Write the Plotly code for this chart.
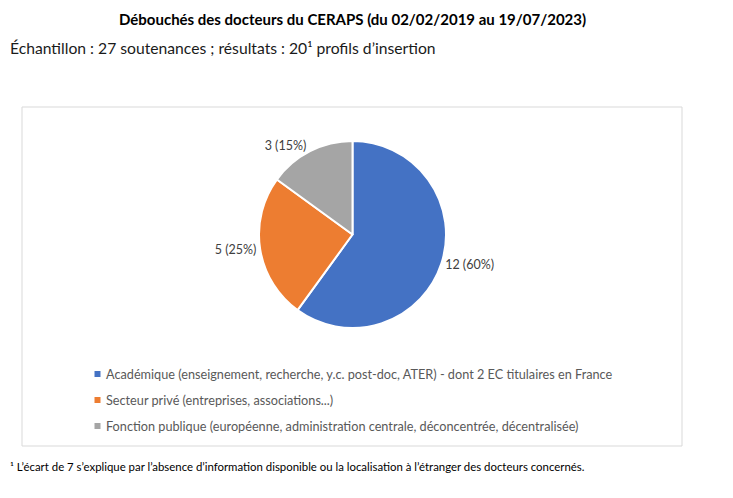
import plotly.graph_objects as go

# --- Data ---
categories = [
    "Académique (enseignement, recherche, y.c. post-doc, ATER) - dont 2 EC titulaires en France",
    "Secteur privé (entreprises, associations...)",
    "Fonction publique (européenne, administration centrale, déconcentrée, décentralisée)",
]
counts = [12, 5, 3]
colors = ["#4472C4", "#ED7D31", "#A5A5A5"]

title_text = "Débouchés des docteurs du CERAPS (du 02/02/2019 au 19/07/2023)"
subtitle_text = "Échantillon : 27 soutenances ; résultats : 20¹ profils d’insertion"
footnote_text = ("¹ L’écart de 7 s’explique par l’absence d’information disponible "
                 "ou la localisation à l’étranger des docteurs concernés.")

# page has an 8px body margin, so the figure is drawn slightly smaller
PAD = 8
W, H = 733 - PAD, 498 - PAD
FONT = "Lato"


def px(x):
    # page pixel -> paper x
    return (x - PAD) / W


def py(y):
    # page pixel -> paper y
    return 1 - (y - PAD) / H


fig = go.Figure()

fig.add_trace(go.Pie(
    labels=categories,
    values=counts,
    sort=False,
    direction="clockwise",
    rotation=0,
    marker=dict(colors=colors, line=dict(color="white", width=2)),
    texttemplate="%{value} (%{percent:.0%})",
    textposition="outside",
    outsidetextfont=dict(family=FONT, size=12.5, color="#404040"),
    domain=dict(x=[px(259), px(446)], y=[py(328), py(141)]),
    showlegend=False,
    hoverinfo="label+value+percent",
))

# chart area border
fig.add_shape(type="rect", xref="paper", yref="paper",
              x0=px(22), x1=px(682), y0=py(446), y1=py(107),
              line=dict(color="#D9D9D9", width=1), layer="below")

# legend (small squares + text, like the original)
legend_rows = [374, 400, 426]
for name, col, yy in zip(categories, colors, legend_rows):
    fig.add_shape(type="rect", xref="paper", yref="paper",
                  x0=px(94.5), x1=px(100.5), y0=py(yy + 3), y1=py(yy - 3),
                  fillcolor=col, line=dict(width=0))
    fig.add_annotation(text=name, xref="paper", yref="paper",
                       x=px(104), y=py(yy), showarrow=False,
                       xanchor="left", yanchor="middle",
                       font=dict(family=FONT, size=12.7, color="#595959"))

fig.add_annotation(text=f"<b>{title_text}</b>", xref="paper", yref="paper",
                   x=px(352), y=py(PAD), showarrow=False, xanchor="center", yanchor="top",
                   font=dict(family=FONT, size=15, color="#000000"))
fig.add_annotation(text=subtitle_text, xref="paper", yref="paper",
                   x=px(PAD), y=py(48), showarrow=False, xanchor="left", yanchor="middle",
                   font=dict(family=FONT, size=15.7, color="#1a1a1a"))
fig.add_annotation(text=footnote_text, xref="paper", yref="paper",
                   x=px(PAD), y=py(466), showarrow=False, xanchor="left", yanchor="middle",
                   font=dict(family=FONT, size=11.4, color="#000000"))

fig.update_layout(
    width=W, height=H,
    margin=dict(l=0, r=0, t=0, b=0),
    paper_bgcolor="white",
    plot_bgcolor="white",
    showlegend=False,
)

fig.write_html("out.html")
